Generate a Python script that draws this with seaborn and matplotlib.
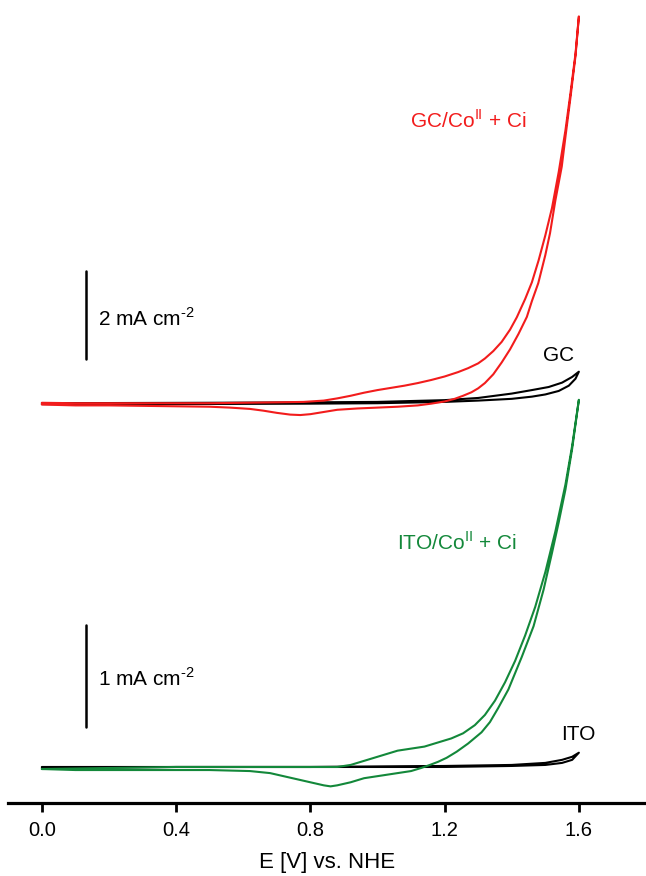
import numpy as np
import pandas as pd
import matplotlib
matplotlib.use("Agg")
import matplotlib.pyplot as plt
import seaborn as sns

# --- GC electrode (top traces), current in mA cm-2 ---
gc_co_fwd_E = [0.00, 0.10, 0.20, 0.30, 0.40, 0.50, 0.60, 0.70, 0.78, 0.84, 0.88, 0.92, 0.96, 1.00,
               1.04, 1.08, 1.12, 1.16, 1.20, 1.24, 1.27, 1.30, 1.32, 1.345, 1.37, 1.395, 1.415,
               1.44, 1.46, 1.48, 1.50, 1.52, 1.54, 1.56, 1.575, 1.59, 1.60]
gc_co_fwd_i = [0.03, 0.02, 0.02, 0.02, 0.02, 0.02, 0.03, 0.04, 0.05, 0.08, 0.13, 0.19, 0.26, 0.32,
               0.37, 0.42, 0.48, 0.55, 0.63, 0.73, 0.82, 0.93, 1.04, 1.21, 1.42, 1.70, 1.98,
               2.40, 2.78, 3.28, 3.85, 4.48, 5.30, 6.25, 7.10, 8.00, 8.85]
gc_co_rev_E = [1.60, 1.59, 1.575, 1.56, 1.549, 1.53, 1.514, 1.50, 1.479, 1.46, 1.445, 1.42, 1.395,
               1.37, 1.345, 1.32, 1.30, 1.28, 1.255, 1.23, 1.20, 1.16, 1.12, 1.06, 1.00, 0.94,
               0.88, 0.84, 0.80, 0.77, 0.74, 0.70, 0.66, 0.62, 0.56, 0.50, 0.40, 0.30, 0.20,
               0.10, 0.00]
gc_co_rev_i = [8.85, 7.95, 7.00, 6.10, 5.42, 4.65, 3.90, 3.40, 2.76, 2.35, 1.99, 1.60, 1.25,
               0.95, 0.68, 0.48, 0.36, 0.27, 0.19, 0.12, 0.06, 0.01, -0.03, -0.06, -0.08, -0.10,
               -0.13, -0.18, -0.23, -0.25, -0.24, -0.20, -0.15, -0.11, -0.08, -0.06, -0.05, -0.04,
               -0.03, -0.03, -0.01]

gc_fwd_E = [0.00, 0.40, 0.80, 1.00, 1.20, 1.30, 1.40, 1.46, 1.50, 1.54, 1.57, 1.59, 1.60]
gc_fwd_i = [0.00, 0.00, 0.01, 0.02, 0.05, 0.08, 0.12, 0.17, 0.22, 0.30, 0.42, 0.58, 0.74]
gc_rev_E = [1.60, 1.58, 1.55, 1.51, 1.46, 1.40, 1.30, 1.20, 1.00, 0.80, 0.50, 0.00]
gc_rev_i = [0.74, 0.62, 0.49, 0.39, 0.32, 0.24, 0.14, 0.09, 0.05, 0.04, 0.03, 0.02]

# --- ITO electrode (bottom traces), current in mA cm-2 ---
ito_co_fwd_E = [0.00, 0.20, 0.40, 0.60, 0.80, 0.88, 0.92, 0.96, 1.00, 1.03, 1.06, 1.10, 1.14,
                1.18, 1.22, 1.255, 1.29, 1.32, 1.35, 1.38, 1.41, 1.44, 1.47, 1.50, 1.53, 1.56,
                1.58, 1.60]
ito_co_fwd_i = [-0.02, -0.01, 0.00, 0.00, 0.00, 0.00, 0.02, 0.06, 0.10, 0.13, 0.16, 0.18, 0.20,
                0.24, 0.28, 0.33, 0.41, 0.51, 0.65, 0.83, 1.04, 1.29, 1.57, 1.91, 2.31, 2.77,
                3.15, 3.60]
ito_co_rev_E = [1.60, 1.58, 1.56, 1.54, 1.52, 1.495, 1.465, 1.43, 1.39, 1.36, 1.335, 1.31, 1.27,
                1.236, 1.206, 1.18, 1.156, 1.13, 1.10, 1.04, 1.00, 0.96, 0.92, 0.88, 0.86, 0.84,
                0.80, 0.76, 0.72, 0.68, 0.62, 0.50, 0.30, 0.10, 0.00]
ito_co_rev_i = [3.60, 3.12, 2.72, 2.40, 2.10, 1.74, 1.38, 1.08, 0.76, 0.58, 0.44, 0.34, 0.23,
                0.15, 0.09, 0.05, 0.02, -0.01, -0.04, -0.07, -0.09, -0.11, -0.15, -0.18, -0.19,
                -0.18, -0.15, -0.12, -0.09, -0.06, -0.04, -0.03, -0.03, -0.03, -0.02]

ito_fwd_E = [0.00, 0.40, 0.80, 1.20, 1.40, 1.50, 1.55, 1.58, 1.60]
ito_fwd_i = [-0.01, 0.00, 0.00, 0.00, 0.01, 0.02, 0.04, 0.07, 0.14]
ito_rev_E = [1.60, 1.58, 1.55, 1.50, 1.40, 1.20, 0.80, 0.00]
ito_rev_i = [0.14, 0.10, 0.07, 0.04, 0.02, 0.01, 0.00, 0.00]

x_ticks = [0.0, 0.4, 0.8, 1.2, 1.6]
RED = "#f21c1c"
GREEN = "#13883a"


def cv_frame(fwd_E, fwd_i, rev_E, rev_i):
    return pd.DataFrame({"E": list(fwd_E) + list(rev_E), "i": list(fwd_i) + list(rev_i)})


sns.set_style("white")
plt.rcParams["font.family"] = ["Liberation Sans", "DejaVu Sans"]
plt.rcParams["mathtext.fontset"] = "custom"
plt.rcParams["mathtext.rm"] = "Liberation Sans"
plt.rcParams["text.color"] = "black"
plt.rcParams["axes.labelcolor"] = "black"
plt.rcParams["xtick.color"] = "black"

fig = plt.figure(figsize=(6.46, 8.76), dpi=100)
ax_bot = fig.add_axes([0.0128, 0.083, 0.9872, 0.4718])
ax_top = fig.add_axes([0.0128, 0.509, 0.9872, 0.491])
for ax in (ax_top, ax_bot):
    ax.set_xlim(-0.1, 1.8)
    ax.patch.set_alpha(0)
ax_top.set_ylim(-0.594, 9.224)
ax_bot.set_ylim(-0.356, 3.696)

lw = 1.5
# GC traces
sns.lineplot(data=cv_frame(gc_fwd_E, gc_fwd_i, gc_rev_E, gc_rev_i), x="E", y="i",
             sort=False, estimator=None, color="black", lw=lw, ax=ax_top)
sns.lineplot(data=cv_frame(gc_co_fwd_E, gc_co_fwd_i, gc_co_rev_E, gc_co_rev_i), x="E", y="i",
             sort=False, estimator=None, color=RED, lw=lw, ax=ax_top)
# ITO traces
sns.lineplot(data=cv_frame(ito_fwd_E, ito_fwd_i, ito_rev_E, ito_rev_i), x="E", y="i",
             sort=False, estimator=None, color="black", lw=lw, ax=ax_bot)
sns.lineplot(data=cv_frame(ito_co_fwd_E, ito_co_fwd_i, ito_co_rev_E, ito_co_rev_i), x="E", y="i",
             sort=False, estimator=None, color=GREEN, lw=lw, ax=ax_bot)
for ax in (ax_top, ax_bot):
    for ln in ax.get_lines():
        ln.set_clip_on(False)
        ln.set_solid_joinstyle("round")

# scale bars
bar_x = 0.131
ax_top.plot([bar_x, bar_x], [1.04, 3.04], color="black", lw=1.8, clip_on=False)
ax_bot.plot([bar_x, bar_x], [0.39, 1.39], color="black", lw=1.8, clip_on=False)
fs = 15
ax_top.text(0.168, 1.96, r"2 mA cm$^{\text{-2}}$", fontsize=fs, va="center", ha="left")
ax_bot.text(0.168, 0.87, r"1 mA cm$^{\text{-2}}$", fontsize=fs, va="center", ha="left")

# curve labels
ax_top.text(1.27, 6.48, r"GC/Co$^{\mathregular{II}}$ + Ci", color=RED, fontsize=fs,
            ha="center", va="center")
ax_top.text(1.54, 1.12, "GC", color="black", fontsize=fs, ha="center", va="center")
ax_bot.text(1.236, 2.20, r"ITO/Co$^{\mathregular{II}}$ + Ci", color=GREEN, fontsize=fs,
            ha="center", va="center")
ax_bot.text(1.599, 0.32, "ITO", color="black", fontsize=fs, ha="center", va="center")

# axes styling
ax_top.axis("off")
for side in ("top", "left", "right"):
    ax_bot.spines[side].set_visible(False)
ax_bot.spines["bottom"].set_linewidth(2.3)
ax_bot.spines["bottom"].set_color("black")
ax_bot.set_yticks([])
ax_bot.set_ylabel("")
ax_bot.set_xticks(x_ticks)
ax_bot.set_xticklabels([f"{t:.1f}" for t in x_ticks])
ax_bot.tick_params(axis="x", direction="out", length=6.7, width=2, pad=6, labelsize=14.5,
                   bottom=True, color="black", labelcolor="black")
ax_bot.set_xlabel("E [V] vs. NHE", fontsize=16, labelpad=9, color="black")

fig.savefig("out.png", dpi=100)
